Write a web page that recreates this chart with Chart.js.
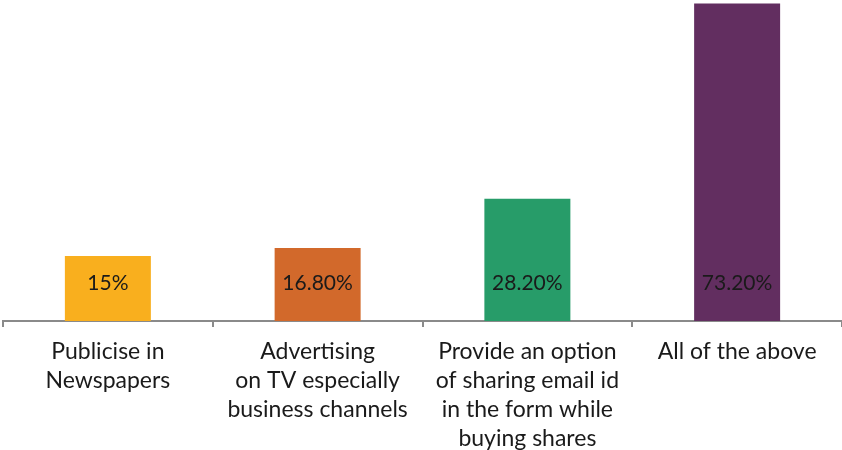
<!DOCTYPE html>
<html>
<head>
<meta charset="utf-8">
<script src="https://cdn.jsdelivr.net/npm/chart.js@4"></script>
<style>
  html, body { margin: 0; padding: 0; background: #fff; }
  #wrap { width: 842px; height: 450px; }
</style>
</head>
<body>
<div id="wrap"><canvas id="awarenessChart"></canvas></div>
<script>
// Ways to reach shareholders (share of respondents, %)
const categories = [
  ["Publicise in", "Newspapers"],
  ["Advertising", "on TV especially", "business channels"],
  ["Provide an option", "of sharing email id", "in the form while", "buying shares"],
  ["All of the above"],
];
const values = [15, 16.8, 28.2, 73.2];
const barColors = ["#F9AF1E", "#D2692B", "#279C69", "#622E60"];

const fontFamily = "Lato, 'Open Sans', sans-serif";

function formatPct(v) {
  return Number.isInteger(v) ? v + "%" : v.toFixed(2) + "%";
}

// value labels sit near the base of each bar
const baseLabels = {
  id: "baseLabels",
  afterDatasetsDraw(chart) {
    const { ctx } = chart;
    const meta = chart.getDatasetMeta(0);
    const y0 = chart.scales.y.getPixelForValue(0);
    ctx.save();
    ctx.font = "21px " + fontFamily;
    ctx.fillStyle = "#1a1a1a";
    ctx.textAlign = "center";
    ctx.textBaseline = "middle";
    meta.data.forEach((bar, i) => {
      ctx.fillText(formatPct(values[i]), bar.x, y0 - 38);
    });
    ctx.restore();
  },
};

const ctx = document.getElementById("awarenessChart").getContext("2d");
new Chart(ctx, {
  type: "bar",
  data: {
    labels: categories,
    datasets: [
      {
        data: values,
        backgroundColor: barColors,
        categoryPercentage: 1,
        barPercentage: 0.41,
      },
    ],
  },
  options: {
    responsive: true,
    maintainAspectRatio: false,
    animation: false,
    layout: { padding: { left: 3, right: 0, top: 0, bottom: 0 } },
    plugins: {
      legend: { display: false },
      tooltip: { enabled: false },
    },
    scales: {
      x: {
        grid: {
          drawOnChartArea: false,
          drawTicks: true,
          tickLength: 6,
          color: "#8a8a8a",
          lineWidth: 2,
        },
        border: { color: "#8a8a8a", width: 2 },
        ticks: {
          color: "#1a1a1a",
          padding: 10,
          maxRotation: 0,
          autoSkip: false,
          font: { family: fontFamily, size: 23, lineHeight: "29px" },
        },
        afterFit(scale) {
          scale.height = 129;
        },
      },
      y: {
        display: false,
        min: 0,
        max: 74,
      },
    },
  },
  plugins: [baseLabels],
});
</script>
</body>
</html>
